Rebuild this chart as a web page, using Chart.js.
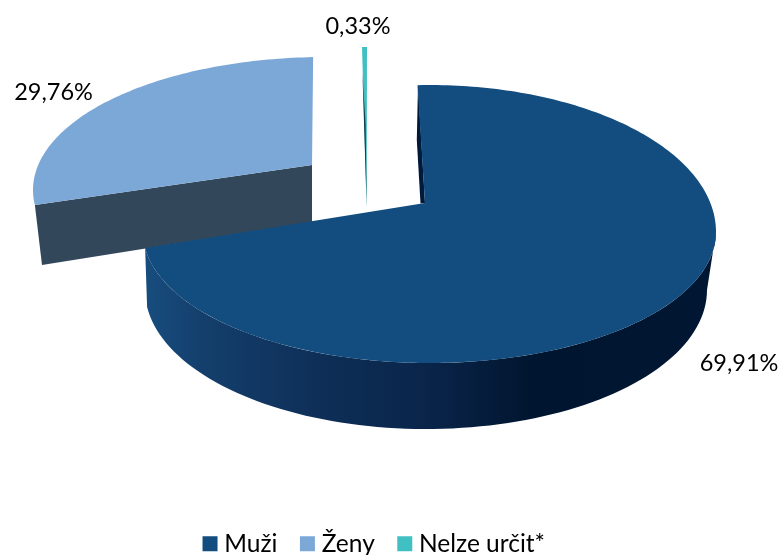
<!DOCTYPE html>
<html><head><meta charset="utf-8">
<script src="https://cdn.jsdelivr.net/npm/chart.js@4"></script>
<style>html,body{margin:0;padding:0;background:#fff}#w{width:783px;height:555px;position:relative}</style>
</head><body><div id="w"><canvas id="c" width="783" height="555"></canvas></div>
<script>
const categories = ['Muži', 'Ženy', 'Nelze určit*'];
const shares = [69.91, 29.76, 0.33];
const sliceColors = ['#134d7f', '#7ca8d8', '#40c0c2'];

const rad = Math.PI / 180;
// Projection of each exploded slice of the tilted 3D pie: apex, ellipse and how
// the library's arc angle maps to the ellipse parameter.
const projection = [
  { apex:[425,203], cx:429.5, cy:232, a:286.5, bUp:147, bDn:131, tStart:-92.4, scale:1.0545, label:[739,371] },
  { apex:[312,165], cx:325, cy:190, a:292, bUp:133, bDn:133, tStart:173.5, scale:0.879, label:[53.5,100] },
  { apex:[366.7,208], cx:367, cy:200, a:286, bUp:153, bDn:153, tStart:-91, scale:0.84, label:[358,34] }
];
function rim(p, t) {
  const s = Math.sin(t * rad), c = Math.cos(t * rad);
  return [p.cx + p.a * c, p.cy + (s < 0 ? p.bUp : p.bDn) * s];
}
function tAt(p, arc, angle) { return p.tStart + (angle - arc.startAngle) / rad * p.scale; }
function poly(ctx, pts, fill) {
  ctx.beginPath();
  pts.forEach((q, i) => i ? ctx.lineTo(q[0], q[1]) : ctx.moveTo(q[0], q[1]));
  ctx.closePath();
  ctx.fillStyle = fill;
  ctx.fill();
}
function topFace(ctx, p, arc) {
  const pts = [p.apex];
  const t0 = tAt(p, arc, arc.startAngle), t1 = tAt(p, arc, arc.endAngle);
  const n = Math.max(2, Math.ceil(Math.abs(t1 - t0)));
  for (let i = 0; i <= n; i++) pts.push(rim(p, t0 + (t1 - t0) * i / n));
  poly(ctx, pts, arc.options.backgroundColor);
}
const pie3d = {
  id: 'pie3d',
  beforeDatasetDraw(chart) {
    const ctx = chart.ctx, arcs = chart.getDatasetMeta(0).data;
    ctx.save();
    // Ženy: cut face, then top
    const pZ = projection[1], zEnd = rim(pZ, tAt(pZ, arcs[1], arcs[1].startAngle));
    poly(ctx, [zEnd, pZ.apex, [312,222], [42,265]], '#33475a');
    topFace(ctx, pZ, arcs[1]);
    // Nelze určit: top with dark side sliver
    const pN = projection[2];
    topFace(ctx, pN, arcs[2]);
    poly(ctx, [[362.4,72],[366.7,208],[365.6,125]], '#123c4c');
    // Muži: inner wall, outer wall, top
    const pM = projection[0];
    poly(ctx, [[418,85],[416.8,140],[420.5,203.6],[425,203]], '#001a3c');
    const tEnd = tAt(pM, arcs[0], arcs[0].endAngle);
    const low = { cx:426, cy:290, a:281, bUp:139, bDn:139 };
    const wall = [];
    for (let i = 0; i <= 90; i++) wall.push(rim(pM, tEnd * i / 90));
    for (let i = 90; i >= 0; i--) wall.push(rim(low, 173 * i / 90));
    const g = ctx.createLinearGradient(145, 0, 716, 0);
    g.addColorStop(0, '#174d7e');
    g.addColorStop(0.1, '#143f6c');
    g.addColorStop(0.3, '#0e2f58');
    g.addColorStop(0.5, '#0a2449');
    g.addColorStop(0.68, '#00152f');
    g.addColorStop(1, '#001733');
    poly(ctx, wall, g);
    topFace(ctx, pM, arcs[0]);
    ctx.restore();
    return false;
  },
  afterDraw(chart) {
    const ctx = chart.ctx;
    ctx.save();
    ctx.font = '23.5px Lato';
    ctx.fillStyle = '#000';
    ctx.textAlign = 'center';
    ctx.textBaseline = 'alphabetic';
    shares.forEach((v, i) => {
      ctx.fillText(v.toFixed(2).replace('.', ',') + '%', projection[i].label[0], projection[i].label[1]);
    });
    ctx.restore();
  }
};
new Chart(document.getElementById('c'), {
  type: 'pie',
  data: { labels: categories, datasets: [{ data: shares, backgroundColor: sliceColors, borderWidth: 0 }] },
  plugins: [pie3d],
  options: {
    responsive: false, animation: false,
    layout: { padding: { bottom: -11, right: 30 } },
    plugins: {
      tooltip: { enabled: false },
      legend: { position: 'bottom', labels: { usePointStyle: true, pointStyle: 'rect', boxWidth: 4, boxHeight: 15, padding: 28, color: '#000', font: { family: 'Lato', size: 24.5 } } }
    }
  }
});
</script></body></html>
